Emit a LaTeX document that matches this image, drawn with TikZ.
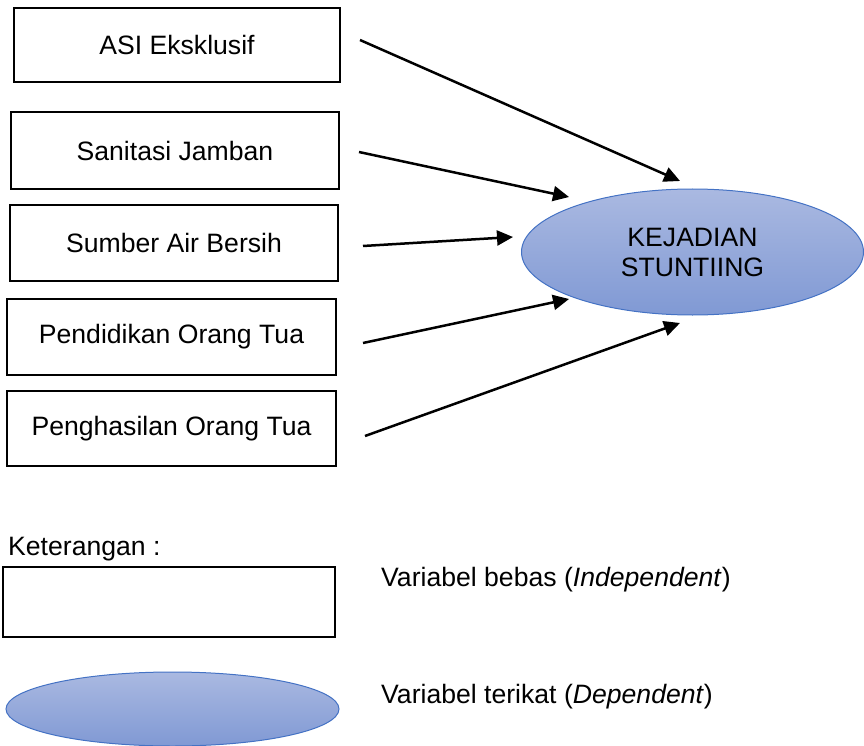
\documentclass[tikz,border=0pt]{standalone}
\usepackage{fontspec}
\setmainfont{Liberation Sans}
\usetikzlibrary{shapes.geometric,arrows.meta}
\definecolor{elltop}{RGB}{170,185,225}
\definecolor{ellbot}{RGB}{128,153,212}
\definecolor{ellline}{RGB}{68,114,196}
\tikzset{
  varbox/.style={draw=black, line width=2pt, fill=white, inner sep=0pt, align=center},
  depell/.style={ellipse, draw=ellline, line width=1pt, top color=elltop, bottom color=ellbot, inner sep=0pt, align=center},
  conn/.style={line width=2.5pt, -{Triangle[length=16pt,width=15pt]}},
  lbl/.style={inner sep=0pt, anchor=base west}
}
\begin{document}
\begin{tikzpicture}[x=1pt,y=-1pt,font=\fontsize{26.6}{30}\selectfont]
\useasboundingbox (0,0) rectangle (864,746);
% independent variable boxes
\node[varbox, minimum width=326pt, minimum height=74pt] (b1) at (177,45) {ASI Eksklusif};
\node[varbox, minimum width=328pt, minimum height=77pt] (b2) at (175,151) {Sanitasi Jamban};
\node[varbox, minimum width=328pt, minimum height=76pt] (b3) at (174,243) {Sumber Air Bersih};
\node[varbox, minimum width=329pt, minimum height=76pt] (b4) at (171.5,337) {Pendidikan Orang Tua};
\node[varbox, minimum width=329pt, minimum height=75pt] (b5) at (171.5,428.5) {Penghasilan Orang Tua};
% dependent variable
\node[depell, minimum width=342pt, minimum height=126pt] (dep) at (692.5,252) {KEJADIAN\\STUNTIING};
% arrow end points
\coordinate (s1) at (360,40);  \coordinate (e1) at (680,181);
\coordinate (s2) at (359,152); \coordinate (e2) at (569,197);
\coordinate (s3) at (363,246); \coordinate (e3) at (513,237);
\coordinate (s4) at (363,343); \coordinate (e4) at (569,299);
\coordinate (s5) at (365,436); \coordinate (e5) at (680,323);
\draw[conn] (s1) -- (e1);
\draw[conn] (s2) -- (e2);
\draw[conn] (s3) -- (e3);
\draw[conn] (s4) -- (e4);
\draw[conn] (s5) -- (e5);
% legend
\node[lbl] (ket) at (8,555) {Keterangan :};
\node[varbox, minimum width=332pt, minimum height=70pt] (lbox) at (169,602) {};
\node[lbl] (lbt) at (381,586) {Variabel bebas (\textit{Independent})};
\node[depell, minimum width=333pt, minimum height=74pt] (lell) at (172.5,709) {};
\node[lbl] (let) at (381,703) {Variabel terikat (\textit{Dependent})};
\end{tikzpicture}
\end{document}
